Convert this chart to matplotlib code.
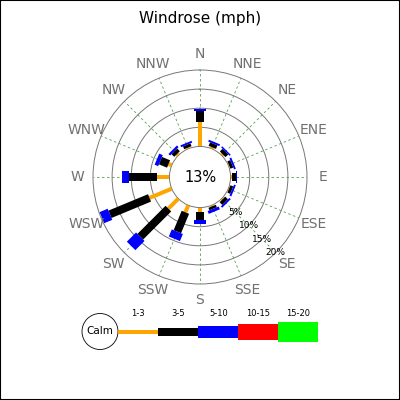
import numpy as np
import matplotlib
matplotlib.use('Agg')
import matplotlib.pyplot as plt
from matplotlib.patches import Rectangle, Circle

# wind directions and frequencies (%) per speed class
directions = ['N', 'NNE', 'NE', 'ENE', 'E', 'ESE', 'SE', 'SSE',
              'S', 'SSW', 'SW', 'WSW', 'W', 'WNW', 'NW', 'NNW']
speed_1_3 = [6.4, 0.4, 0.4, 0.2, 0.3, 0.2, 0.3, 0.3, 1.1, 2.0, 3.7, 6.3, 3.2, 0.9, 0.5, 0.3]
speed_3_5 = [2.9, 1.0, 1.0, 0.8, 1.0, 0.8, 1.0, 0.7, 2.2, 5.5, 10.4, 11.2, 7.3, 2.3, 1.0, 0.8]
speed_5_10 = [0.5, 0.5, 0.4, 0.5, 0.4, 0.5, 0.5, 0.8, 0.9, 2.0, 3.4, 2.3, 2.0, 1.0, 0.6, 0.5]
speed_10_15 = [0] * 16
speed_15_20 = [0] * 16
calm = 13

speed_labels = ['1-3', '3-5', '5-10', '10-15', '15-20']
speed_colors = ['#FFA500', '#000000', '#0000FF', '#FF0000', '#00FF00']
ring_values = [5, 10, 15, 20]

fig = plt.figure(figsize=(4, 4), dpi=100)
fig.patch.set_facecolor('white')

# polar rose, the hole in the middle is the calm circle
ax = fig.add_axes([0.2325, 0.29, 0.535, 0.535], projection='polar')
ax.set_theta_zero_location('N')
ax.set_theta_direction(-1)
ax.set_rorigin(-8)
ax.set_ylim(0, 20)

angles = np.deg2rad(np.arange(len(directions)) * 22.5)
ax.set_thetagrids(np.rad2deg(angles), labels=[''] * len(directions))
ax.set_rgrids(ring_values[:-1], labels=[''] * 3)
ax.xaxis.grid(True, color='#55a055', lw=0.6, ls=(0, (3, 3)))
ax.yaxis.grid(True, color='#777777', lw=0.7, ls='-')
for name in ['polar', 'inner']:
    if name in ax.spines:
        ax.spines[name].set_color('#777777')
        ax.spines[name].set_linewidth(0.7)
ax.tick_params(length=0)

series = [speed_1_3, speed_3_5, speed_5_10, speed_10_15, speed_15_20]
for i, th in enumerate(angles):
    start = 0
    for k, s in enumerate(series):
        v = s[i]
        if v > 0:
            ax.plot([th, th], [start, start + v], color=speed_colors[k],
                    lw=(k + 1) * 4 * 0.72, solid_capstyle='butt', zorder=3)
        start += v

for th, lab in zip(angles, directions):
    ax.text(th, 24.1, lab, ha='center', va='center', fontsize=10,
            color='#707070', clip_on=False)

for r in ring_values:
    ax.text(np.deg2rad(135), r, f'{r}%', ha='center', va='center',
            fontsize=6.5, clip_on=False, zorder=4)

ax.text(0.5, 0.5, f'{calm}%', transform=ax.transAxes, ha='center',
        va='center', fontsize=10.5)

fig.text(0.5, 1 - 18 / 400, 'Windrose (mph)', ha='center', va='center', fontsize=11)

# legend drawn in pixel coordinates
lg = fig.add_axes([0, 0, 1, 1])
lg.set_xlim(0, 400)
lg.set_ylim(400, 0)
lg.axis('off')
lg.patch.set_alpha(0)
lg.add_patch(Circle((100, 331.5), 18, fill=False, ec='black', lw=0.6))
lg.text(100, 331.5, 'Calm', ha='center', va='center', fontsize=7.5)
for k, (lab, col) in enumerate(zip(speed_labels, speed_colors)):
    h = 4 * (k + 1)
    x0 = 118.3 + k * 40
    lg.add_patch(Rectangle((x0, 331.5 - h / 2), 40, h, color=col, lw=0))
    lg.text(x0 + 20, 314, lab, ha='center', va='center', fontsize=6)

fig.add_artist(Rectangle((0, 0), 1, 1, transform=fig.transFigure,
                         fill=False, ec='black', lw=1.5))

fig.savefig('out.png', dpi=100)
